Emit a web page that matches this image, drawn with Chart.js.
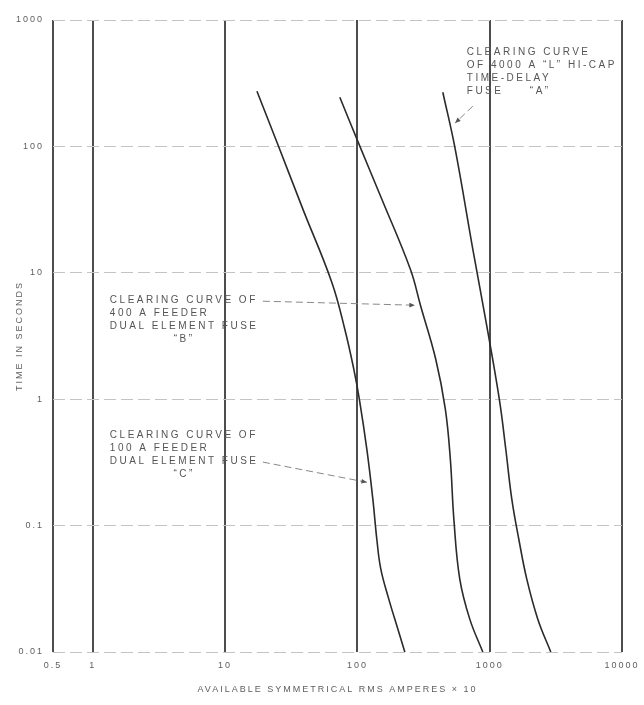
<!DOCTYPE html>
<html>
<head>
<meta charset="utf-8">
<script src="https://cdn.jsdelivr.net/npm/chart.js@4.4.0/dist/chart.umd.min.js"></script>
<style>
html, body { margin: 0; padding: 0; background: #fff; }
</style>
</head>
<body>
<canvas id="fuseChart" width="644" height="705"></canvas>
<script>
// clearing curves (amperes x10 vs seconds)
var fuseA_amps = [442, 545, 745, 951, 1182, 1323, 1469, 1660, 1907, 2310, 2896];
var fuseA_secs = [268, 98.6, 15.4, 3.78, 1.0, 0.402, 0.162, 0.078, 0.0377, 0.0182, 0.01];

var fuseB_amps = [73.6, 105, 153, 251, 301, 391, 462, 504, 536, 594, 707, 887];
var fuseB_secs = [245, 98.6, 38.2, 10.7, 5.44, 2.07, 0.833, 0.335, 0.112, 0.0377, 0.0182, 0.01];

var fuseC_amps = [17.4, 25.5, 38.7, 64.0, 80.3, 93.9, 103.4, 117.8, 130.8, 140.2, 150.3, 172.7, 202.1, 228.2];
var fuseC_secs = [273, 98.6, 31.9, 8.43, 3.58, 1.73, 1.0, 0.402, 0.162, 0.078, 0.0452, 0.0262, 0.0152, 0.01];

var ampTicks = [0.5, 1, 10, 100, 1000, 10000];
var ampLabels = ['0.5', '1', '10', '100', '1000', '10000'];
var secTicks = [0.01, 0.1, 1, 10, 100, 1000];
var secLabels = ['0.01', '0.1', '1', '10', '100', '1000'];

function pts(xs, ys) {
    return xs.map(function(v, i) { return {x: v, y: ys[i]}; });
}

// callouts, anchored in data units
var notes = [
    {lines: ['CLEARING CURVE', 'OF 4000 A \u201CL\u201D HI-CAP', 'TIME-DELAY', 'FUSE     \u201CA\u201D'],
     x: 671, y: 556, center: false, from: [745, 208], to: [548, 153]},
    {lines: ['CLEARING CURVE OF', '400 A FEEDER', 'DUAL ELEMENT FUSE', '\u201CB\u201D'],
     x: 1.345, y: 6.07, center: true, from: [19.3, 5.96], to: [272, 5.54]},
    {lines: ['CLEARING CURVE OF', '100 A FEEDER', 'DUAL ELEMENT FUSE', '\u201CC\u201D'],
     x: 1.345, y: 0.519, center: true, from: [19.3, 0.318], to: [118, 0.22]}
];

var notePlugin = {
    id: 'notes',
    beforeDraw: function(chart) {
        chart.ctx.letterSpacing = '2px';
    },
    afterDatasetsDraw: function(chart) {
        var ctx = chart.ctx, xs = chart.scales.x, ys = chart.scales.y;
        ctx.save();
        ctx.font = '10px "Liberation Sans", Arial, sans-serif';
        ctx.letterSpacing = '2.5px';
        ctx.fillStyle = '#555';
        ctx.textBaseline = 'middle';
        notes.forEach(function(n) {
            var px = xs.getPixelForValue(n.x), py = ys.getPixelForValue(n.y);
            var w = ctx.measureText(n.lines[2]).width;
            n.lines.forEach(function(t, i) {
                if (n.center && i === n.lines.length - 1) {
                    ctx.textAlign = 'center';
                    ctx.fillText(t, px + w / 2, py + i * 13);
                } else {
                    ctx.textAlign = 'left';
                    ctx.fillText(t, px, py + i * 13);
                }
            });
            var x1 = xs.getPixelForValue(n.from[0]), y1 = ys.getPixelForValue(n.from[1]);
            var x2 = xs.getPixelForValue(n.to[0]), y2 = ys.getPixelForValue(n.to[1]);
            ctx.strokeStyle = '#888';
            ctx.lineWidth = 1;
            ctx.setLineDash([7, 4]);
            ctx.beginPath();
            ctx.moveTo(x1, y1);
            ctx.lineTo(x2, y2);
            ctx.stroke();
            ctx.setLineDash([]);
            var a = Math.atan2(y2 - y1, x2 - x1);
            ctx.fillStyle = '#555';
            ctx.beginPath();
            ctx.moveTo(x2, y2);
            ctx.lineTo(x2 - 6 * Math.cos(a - 0.4), y2 - 6 * Math.sin(a - 0.4));
            ctx.lineTo(x2 - 6 * Math.cos(a + 0.4), y2 - 6 * Math.sin(a + 0.4));
            ctx.closePath();
            ctx.fill();
        });
        ctx.restore();
    }
};

var curveStyle = {
    showLine: true,
    borderColor: '#2b2b2b',
    borderWidth: 1.6,
    pointRadius: 0,
    tension: 0.4,
    fill: false
};

var ctx = document.getElementById('fuseChart');
var myChart = new Chart(ctx, {
    type: 'scatter',
    data: {
        datasets: [
            Object.assign({label: 'A', data: pts(fuseA_amps, fuseA_secs)}, curveStyle),
            Object.assign({label: 'B', data: pts(fuseB_amps, fuseB_secs)}, curveStyle),
            Object.assign({label: 'C', data: pts(fuseC_amps, fuseC_secs)}, curveStyle)
        ]
    },
    options: {
        responsive: false,
        animation: false,
        layout: {padding: {top: 20, right: 22, left: 0, bottom: 0}},
        plugins: {legend: {display: false}, tooltip: {enabled: false}},
        scales: {
            x: {
                type: 'logarithmic',
                min: 0.5,
                max: 10000,
                afterBuildTicks: function(s) { s.ticks = ampTicks.map(function(v) { return {value: v}; }); },
                afterFit: function(s) { s.height = 53; },
                grid: {color: '#4d4d4d', lineWidth: 2, drawTicks: false},
                border: {display: false},
                ticks: {
                    padding: 8,
                    color: '#5e5e5e',
                    font: {size: 9, family: '"Liberation Sans", Arial, sans-serif'},
                    maxRotation: 0,
                    autoSkip: false,
                    callback: function(v) { return ampLabels[ampTicks.indexOf(v)]; }
                },
                title: {
                    display: true,
                    text: 'AVAILABLE SYMMETRICAL RMS AMPERES \u00D7 10',
                    color: '#5e5e5e',
                    font: {size: 9, family: '"Liberation Sans", Arial, sans-serif'},
                    padding: {top: 0, bottom: 10}
                }
            },
            y: {
                type: 'logarithmic',
                min: 0.01,
                max: 1000,
                afterBuildTicks: function(s) { s.ticks = secTicks.map(function(v) { return {value: v}; }); },
                afterFit: function(s) { s.width = 53; },
                grid: {color: '#c4c4c4', lineWidth: 1, drawTicks: false},
                border: {display: false, dash: [12, 5]},
                ticks: {
                    padding: 9,
                    color: '#5e5e5e',
                    font: {size: 9, family: '"Liberation Sans", Arial, sans-serif'},
                    autoSkip: false,
                    callback: function(v) { return secLabels[secTicks.indexOf(v)]; }
                },
                title: {
                    display: true,
                    text: 'TIME IN SECONDS',
                    color: '#5e5e5e',
                    font: {size: 9, family: '"Liberation Sans", Arial, sans-serif'},
                    padding: {top: 14, bottom: 0}
                }
            }
        }
    },
    plugins: [notePlugin]
});
</script>
</body>
</html>
